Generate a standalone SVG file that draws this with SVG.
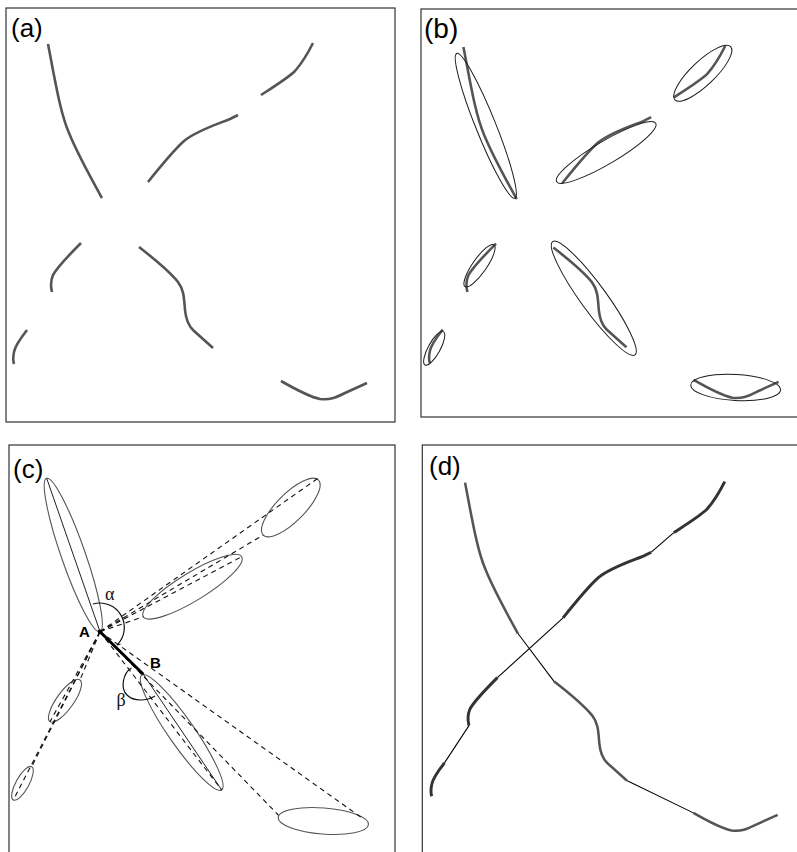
<svg xmlns="http://www.w3.org/2000/svg" width="797" height="852" viewBox="0 0 797 852">
<style>
  .frame { fill: none; stroke: #333; stroke-width: 1.2; }
  .lbl { font-family: "Liberation Sans", Arial, sans-serif; fill: #000; }
  .pt { font-family: "Liberation Sans", Arial, sans-serif; font-weight: bold; font-size: 15px; fill: #000; }
  .greek { font-family: "Liberation Serif", "DejaVu Serif", serif; font-size: 18px; fill: #111; }
  .crv { fill: none; stroke: #555; stroke-width: 2.6; stroke-linecap: butt; }
  .crvd { fill: none; stroke: #333; stroke-width: 3; }
  .ellb { fill: none; stroke: #1a1a1a; stroke-width: 1; }
  .ellc { fill: none; stroke: #555; stroke-width: 1.1; }
  .axis { fill: none; stroke: #222; stroke-width: 1; }
  .dash { fill: none; stroke: #111; stroke-width: 1.1; stroke-dasharray: 5 4; }
  .link { fill: none; stroke: #000; stroke-width: 1.1; }
  .arc { fill: none; stroke: #111; stroke-width: 1.2; }
</style>
<defs>
  <path id="k1" d="M48,44 C55,80 60,112 69,133 C78,155 92,180 102,198"/>
  <path id="k2" d="M148,182 C160,167 174,150 184,141 C196,131 215,125 230,119 L238,115"/>
  <path id="k3" d="M261,95 C275,86 288,78 295,71 C302,63 308,53 313,43"/>
  <path id="k4" d="M81,243 C70,254 58,266 53,275 C50,282 51,288 52,292"/>
  <path id="k5" d="M27,330 C20,339 15,346 14,352 C13,357 13,361 14,364"/>
  <path id="k6" d="M139,247 C157,261 170,272 178,282 C184,290 184,298 185,310 C186,320 188,325 193,330 L213,348"/>
  <path id="k7" d="M281,381 C295,389 310,397 320,399 C330,400 335,398 345,393 L367,383"/>
</defs>

<!-- Panel (a) -->
<g id="panel-a">
  <rect class="frame" x="6" y="8" width="389" height="414"/>
  <text class="lbl" x="11" y="37" font-size="26">(a)</text>
  <g id="a-curves" class="crv">
    <use href="#k1"/><use href="#k2"/><use href="#k3"/><use href="#k4"/>
    <use href="#k5"/><use href="#k6"/><use href="#k7"/>
  </g>
</g>

<!-- Panel (b) -->
<g id="panel-b">
  <rect class="frame" x="421" y="9" width="382" height="408"/>
  <text class="lbl" x="424" y="38" font-size="28">(b)</text>
  <g id="b-curves" class="crv" transform="translate(416,3.5) scale(0.988)">
    <use href="#k1"/><use href="#k2"/><use href="#k3"/><use href="#k4"/>
    <use href="#k5"/><use href="#k6"/><use href="#k7"/>
  </g>
  <g id="b-ellipses">
    <ellipse id="b-e1" class="ellb" cx="485.8" cy="125.8" rx="78" ry="10" transform="rotate(68.1 485.8 125.8)"/>
    <ellipse id="b-e2" class="ellb" cx="606.2" cy="152.5" rx="57.5" ry="11.5" transform="rotate(-30.5 606.2 152.5)"/>
    <ellipse id="b-e3" class="ellb" cx="702.8" cy="73.3" rx="38.5" ry="12" transform="rotate(-43.7 702.8 73.3)"/>
    <ellipse id="b-e4" class="ellb" cx="479.5" cy="265.8" rx="25.4" ry="7" transform="rotate(-55.2 479.5 265.8)"/>
    <ellipse id="b-e5" class="ellb" cx="434.2" cy="348.3" rx="19" ry="6" transform="rotate(-61.2 434.2 348.3)"/>
    <ellipse id="b-e6" class="ellb" cx="593.8" cy="298.3" rx="70" ry="13" transform="rotate(54 593.8 298.3)"/>
    <ellipse id="b-e7" class="ellb" cx="735.7" cy="387.5" rx="45" ry="13" transform="rotate(3.2 735.7 387.5)"/>
  </g>
</g>

<!-- Panel (c) -->
<g id="panel-c">
  <rect class="frame" x="9" y="445" width="386" height="420"/>
  <text class="lbl" x="13" y="478" font-size="26">(c)</text>
  <g id="c-ellipses">
    <ellipse id="c-e1" class="ellc" cx="73.3" cy="555" rx="81.2" ry="12" transform="rotate(70.8 73.3 555)"/>
    <ellipse id="c-e2" class="ellc" cx="290.8" cy="507.5" rx="39" ry="14" transform="rotate(-45 290.8 507.5)"/>
    <ellipse id="c-e3" class="ellc" cx="192.5" cy="586.7" rx="57.6" ry="14" transform="rotate(-31.4 192.5 586.7)"/>
    <ellipse id="c-e4" class="ellc" cx="65" cy="700.8" rx="25.7" ry="8.5" transform="rotate(-54.3 65 700.8)"/>
    <ellipse id="c-e5" class="ellc" cx="22.5" cy="783.3" rx="19" ry="6.5" transform="rotate(-61.1 22.5 783.3)"/>
    <ellipse id="c-e6" class="ellc" cx="181.7" cy="732.5" rx="70" ry="13" transform="rotate(55.2 181.7 732.5)"/>
    <ellipse id="c-e7" class="ellc" cx="323.3" cy="821" rx="45.3" ry="13" transform="rotate(4.5 323.3 821)"/>
  </g>
  <g id="c-axes">
    <line class="axis" x1="46.7" y1="478.3" x2="100" y2="631.7"/>
    <line class="axis" x1="143.3" y1="674.3" x2="221.7" y2="790"/>
  </g>
  <g id="connectors">
    <line class="dash" x1="100" y1="631.7" x2="318.3" y2="478"/>
    <line class="dash" x1="100" y1="631.7" x2="263.3" y2="535"/>
    <line class="dash" x1="100" y1="631.7" x2="241.7" y2="556.7"/>
    <line class="dash" x1="100" y1="631.7" x2="143.3" y2="616.7"/>
    <line class="dash" x1="100" y1="631.7" x2="80" y2="680"/>
    <line class="dash" x1="100" y1="631.7" x2="50" y2="721.7"/>
    <line class="dash" x1="100" y1="631.7" x2="31.7" y2="766.7"/>
    <line class="dash" x1="100" y1="631.7" x2="13.3" y2="800"/>
    <line class="dash" x1="100" y1="631.7" x2="221.7" y2="790"/>
    <line class="dash" x1="100" y1="631.7" x2="278.3" y2="815"/>
    <line class="dash" x1="100" y1="631.7" x2="362" y2="818"/>
  </g>
  <g id="segment-AB">
    <line x1="100" y1="631.7" x2="143.3" y2="674.3" stroke="#000" stroke-width="3"/>
    <circle cx="100" cy="631.7" r="2.3" fill="#000"/>
  </g>
  <g id="angle-alpha">
    <path class="arc" d="M93,604 A24.5,24.5 0 0 1 117,645 L120.5,644"/>
    <text class="greek" x="105" y="600">α</text>
  </g>
  <g id="angle-beta">
    <path class="arc" d="M131.5,668 C123,673 120,688 127,695 C134,702 147,701 155,696"/>
    <text class="greek" x="116.5" y="706">β</text>
  </g>
  <text id="label-A" class="pt" x="79" y="637">A</text>
  <text id="label-B" class="pt" x="150" y="668" font-size="14">B</text>
</g>

<!-- Panel (d) -->
<g id="panel-d">
  <rect class="frame" x="422.3" y="445" width="380" height="420"/>
  <text class="lbl" x="429" y="475" font-size="26">(d)</text>
  <g id="d-curves" transform="translate(418,439.5) scale(0.98)">
    <g class="crv"><use href="#k1"/><use href="#k6"/><use href="#k7"/></g>
    <g class="crvd"><use href="#k4"/><use href="#k5"/><use href="#k2"/><use href="#k3"/></g>
    <g id="d-links" class="link">
      <line x1="102" y1="198" x2="139" y2="247"/>
      <line x1="81" y1="243" x2="148" y2="182"/>
      <line x1="238" y1="115" x2="261" y2="95"/>
      <line x1="52" y1="292" x2="27" y2="330"/>
      <line x1="213" y1="348" x2="281" y2="381"/>
    </g>
  </g>
</g>
</svg>
